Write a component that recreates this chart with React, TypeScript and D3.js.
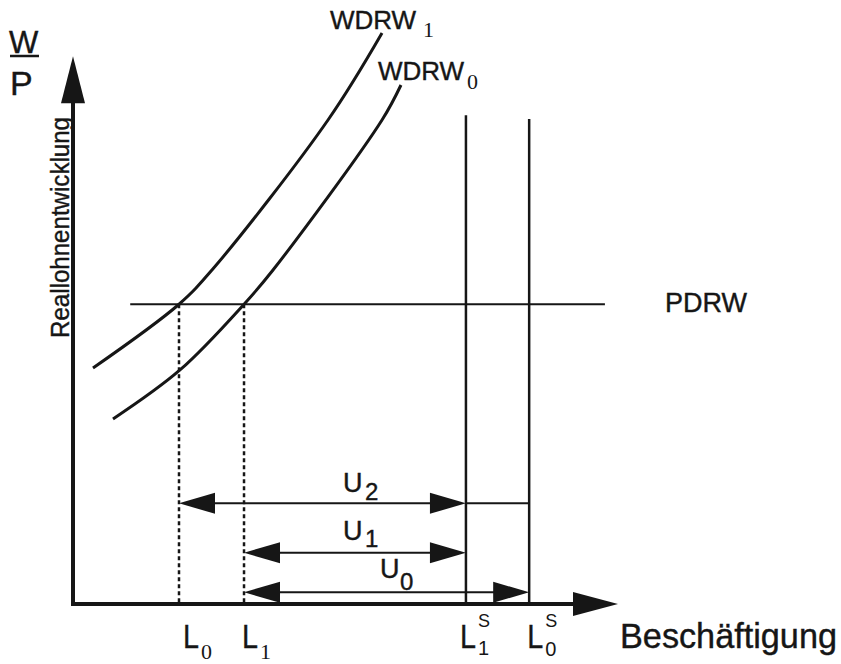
import React from "react";
import * as d3 from "d3";

// ---- data (abstract units) ----
const employmentLevels = [
  { key: "L0", value: 1.945 },
  { key: "L1", value: 3.138 },
  { key: "L1S", value: 7.21 },
  { key: "L0S", value: 8.37 },
];
const pdrwLevel = 5.5;
const pdrwSpan = [1.05, 9.76];
const laborSupplyTops = [8.97, 8.9]; // L1S, L0S
const wdrw1: [number, number][] = [
  [0.367, 4.33],
  [1.945, 5.5],
  [2.55, 6.128],
  [4.679, 8.881],
  [5.67, 10.477],
];
const wdrw0: [number, number][] = [
  [0.734, 3.394],
  [1.963, 4.294],
  [3.138, 5.5],
  [3.67, 6.128],
  [5.67, 8.881],
  [6.018, 9.523],
];
const unemploymentArrows = [
  { label: "U", sub: "2", from: 1.945, to: 7.21, level: 1.848 },
  { label: "U", sub: "1", from: 3.138, to: 7.21, level: 0.941 },
  { label: "U", sub: "0", from: 3.138, to: 8.37, level: 0.215 },
];
const u2Extension = [7.21, 8.37];
const axisMax = 10.05;

const SANS = "'Liberation Sans', Arial, Helvetica, sans-serif";
const SERIF = "'Liberation Serif', 'Times New Roman', serif";
const INK = "#161616";

export default function App() {
  const W = 841;
  const H = 664;
  const x = d3.scaleLinear().domain([0, 10]).range([73, 618]);
  const y = d3.scaleLinear().domain([0, 10]).range([604, 59]);
  const line = d3
    .line<[number, number]>()
    .x((d) => x(d[0]))
    .y((d) => y(d[1]))
    .curve(d3.curveCatmullRom.alpha(0.5));

  const headLen = 36;
  const headHalf = 10.5;
  const head = (tipX: number, tipY: number, dir: number) =>
    `M${tipX},${tipY} L${tipX - dir * headLen},${tipY - headHalf} L${tipX - dir * headLen},${tipY + headHalf} Z`;

  const [l0, l1, l1s, l0s] = employmentLevels.map((d) => x(d.value));

  const Lglyph = (lx: number) => (
    <text x={lx} y={648} fontSize={34} fontFamily={SANS} textLength={16} lengthAdjust="spacingAndGlyphs">
      L
    </text>
  );

  return (
    <svg
      width={W}
      height={H}
      viewBox={`0 0 ${W} ${H}`}
      style={{ position: "absolute", left: 0, top: 0, background: "#fff" }}
    >
      <rect width={W} height={H} fill="#fff" />
      {/* axes */}
      <line x1={x(0)} y1={y(0) + 2} x2={x(0)} y2={y(axisMax) + 30} stroke={INK} strokeWidth={4} />
      <path d={`M${x(0)},${y(axisMax)} L${x(0) - 12},${y(axisMax) + 47} L${x(0) + 12},${y(axisMax) + 47} Z`} fill={INK} />
      <line x1={x(0) - 2} y1={y(0)} x2={x(axisMax) - 30} y2={y(0)} stroke={INK} strokeWidth={4} />
      <path d={`M${x(10)},${y(0)} L${x(10) - 45},${y(0) - 12} L${x(10) - 45},${y(0) + 12} Z`} fill={INK} />

      {/* PDRW */}
      <line x1={x(pdrwSpan[0])} y1={y(pdrwLevel)} x2={x(pdrwSpan[1])} y2={y(pdrwLevel)} stroke={INK} strokeWidth={2} />

      {/* labor supply verticals */}
      <line x1={l1s} y1={y(0)} x2={l1s} y2={y(laborSupplyTops[0])} stroke={INK} strokeWidth={2.5} />
      <line x1={l0s} y1={y(0)} x2={l0s} y2={y(laborSupplyTops[1])} stroke={INK} strokeWidth={2.5} />

      {/* dashed employment */}
      <line x1={l0} y1={y(pdrwLevel)} x2={l0} y2={y(0)} stroke={INK} strokeWidth={2.5} strokeDasharray="4,3" />
      <line x1={l1} y1={y(pdrwLevel)} x2={l1} y2={y(0)} stroke={INK} strokeWidth={2.5} strokeDasharray="4,3" />

      {/* WDRW curves */}
      <path d={line(wdrw1) || ""} fill="none" stroke={INK} strokeWidth={3} />
      <path d={line(wdrw0) || ""} fill="none" stroke={INK} strokeWidth={3} />

      {/* unemployment arrows */}
      {unemploymentArrows.map((a, i) => {
        const yy = y(a.level);
        const x1 = x(a.from);
        const x2 = x(a.to);
        return (
          <g key={i}>
            <line x1={x1 + 10} y1={yy} x2={x2 - 10} y2={yy} stroke={INK} strokeWidth={2} />
            <path d={head(x1, yy, -1)} fill={INK} />
            <path d={head(x2, yy, 1)} fill={INK} />
          </g>
        );
      })}
      <line
        x1={x(u2Extension[0])}
        y1={y(unemploymentArrows[0].level)}
        x2={x(u2Extension[1])}
        y2={y(unemploymentArrows[0].level)}
        stroke={INK}
        strokeWidth={2}
      />

      {/* U labels */}
      <g fill={INK} fontFamily={SANS} stroke={INK} strokeWidth={0.4}>
        <text x={343} y={492} fontSize={27}>U</text>
        <text x={365} y={500} fontSize={24}>2</text>
        <text x={343} y={540} fontSize={27}>U</text>
        <text x={365} y={547} fontSize={24}>1</text>
        <text x={380} y={578} fontSize={27}>U</text>
        <text x={400} y={590} fontSize={24}>0</text>
      </g>

      {/* curve labels */}
      <g fill={INK}>
        <text x={330} y={28.5} fontSize={26} fontFamily={SANS} stroke={INK} strokeWidth={0.4}>WDRW</text>
        <text x={423} y={36.5} fontSize={22} fontFamily={SERIF}>1</text>
        <text x={378} y={80} fontSize={26} fontFamily={SANS} stroke={INK} strokeWidth={0.4}>WDRW</text>
        <text x={467} y={89} fontSize={22} fontFamily={SERIF}>0</text>
        <text x={665} y={311.5} fontSize={27} fontFamily={SANS} stroke={INK} strokeWidth={0.4}>PDRW</text>
      </g>

      {/* axis titles */}
      <g fill={INK} fontFamily={SANS} stroke={INK} strokeWidth={0.4}>
        <text x={9} y={53} fontSize={31}>W</text>
        <line x1={10} y1={56} x2={39} y2={56} stroke={INK} strokeWidth={2.5} />
        <text x={10} y={95} fontSize={34}>P</text>
        <text
          transform="translate(69,338) rotate(-90)"
          fontSize={25}
          textLength={221}
          lengthAdjust="spacingAndGlyphs"
        >
          Reallohnentwicklung
        </text>
        <text x={620} y={648} fontSize={35} textLength={217} lengthAdjust="spacingAndGlyphs">
          Beschäftigung
        </text>
      </g>

      {/* employment tick labels */}
      <g fill={INK}>
        <g stroke={INK} strokeWidth={0.4}>
          {Lglyph(l0 + 4)}
          {Lglyph(l1 - 2)}
          {Lglyph(l1s - 6)}
          {Lglyph(l0s - 2)}
        </g>
        <text x={l0 + 22} y={659} fontSize={22} fontFamily={SERIF}>0</text>
        <text x={l1 + 16} y={659} fontSize={22} fontFamily={SERIF}>1</text>
        <text x={l1s + 12} y={627} fontSize={18} fontFamily={SANS}>S</text>
        <text x={l1s + 12} y={655} fontSize={20} fontFamily={SANS}>1</text>
        <text x={l0s + 16} y={627} fontSize={18} fontFamily={SANS}>S</text>
        <text x={l0s + 16} y={656} fontSize={20} fontFamily={SANS}>0</text>
      </g>
    </svg>
  );
}
